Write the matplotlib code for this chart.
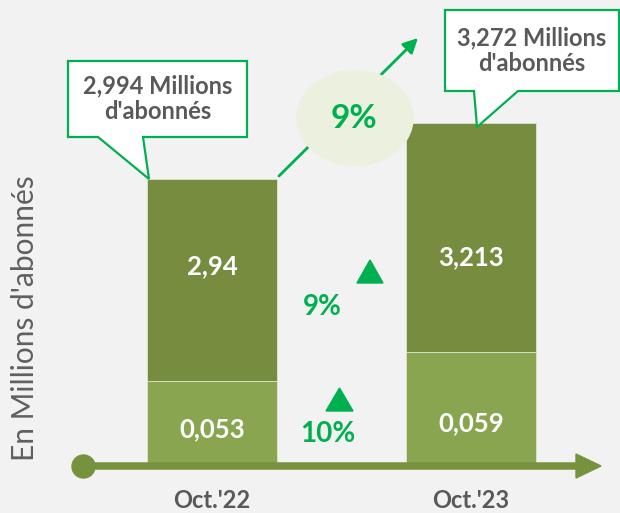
import numpy as np
import matplotlib
matplotlib.use("Agg")
import matplotlib.pyplot as plt
from matplotlib.patches import Polygon, Ellipse, Circle, FancyArrowPatch

# data
CATEGORIES = ["Oct.'22", "Oct.'23"]
BASE_SUBS = [0.053, 0.059]        # bottom segment (millions)
MAIN_SUBS = [2.94, 3.213]         # top segment (millions)
TOTAL_SUBS = [2.994, 3.272]       # callout totals
SEGMENT_GROWTH = ["10%", "9%"]    # bottom, top
TOTAL_GROWTH = "9%"

BG = "#F2F2F2"
DARK = "#768C3F"
LIGHT = "#8AA54F"
AXIS = "#77923C"
ACCENT = "#00B050"
GREY = "#595959"
FONT = ["Lato", "DejaVu Sans"]

plt.rcParams["font.family"] = FONT

W, H = 620, 513


def fmt(v):
    return str(v).replace(".", ",")


def fmt3(v):
    return f"{v:.3f}".replace(".", ",")


# infographic-style (non proportional) vertical scale, piecewise linear
stack_tops = [b + m for b, m in zip(BASE_SUBS, MAIN_SUBS)]
V_KNOTS = np.array([-10, 0, BASE_SUBS[0], BASE_SUBS[1], stack_tops[0], stack_tops[1], 10])
U_KNOTS = np.array([-1000, 0, 85, 114, 287, 343, 343 + (10 - stack_tops[1]) * 200])


def forward(v):
    return np.interp(v, V_KNOTS, U_KNOTS)


def inverse(u):
    return np.interp(u, U_KNOTS, V_KNOTS)


fig = plt.figure(figsize=(W / 100, H / 100), dpi=100, facecolor=BG)
ax = fig.add_axes([0, 0, 1, 1])
ax.set_facecolor("none")
ax.set_yscale("function", functions=(forward, inverse))
x = np.arange(len(CATEGORIES))
ax.bar(x, BASE_SUBS, width=0.5, color=LIGHT, edgecolor="#DDE5CC", linewidth=0.6, zorder=2)
ax.bar(x, MAIN_SUBS, bottom=BASE_SUBS, width=0.5, color=DARK, edgecolor="#DDE5CC",
       linewidth=0.6, zorder=2)
ax.set_xlim(-212 / 259, 408 / 259)
ax.set_ylim(inverse(-47), inverse(466))
ax.axis("off")

for i in x:
    ax.text(i, BASE_SUBS[i] + MAIN_SUBS[i] / 2, fmt(MAIN_SUBS[i]), ha="center", va="center",
            color="white", fontsize=18.5, fontweight="bold", zorder=4)
    ax.annotate(fmt(BASE_SUBS[i]), (i, 0), xytext=(0, 37 + 6 * i), textcoords="offset pixels",
                ha="center", va="center", color="white", fontsize=18.5, fontweight="bold",
                zorder=4)
    ax.text(i, 1 - 501 / H, CATEGORIES[i], transform=ax.get_xaxis_transform(),
            ha="center", va="center", color=GREY, fontsize=17, fontweight="bold")

# overlay in pixel coordinates for decoration
ov = fig.add_axes([0, 0, 1, 1], zorder=3)
ov.set_xlim(0, W)
ov.set_ylim(H, 0)
ov.axis("off")
ov.patch.set_alpha(0)

# axis line with dot and arrow head
ov.plot([83, 580], [466, 466], color=AXIS, lw=5.4, solid_capstyle="butt")
ov.add_patch(Circle((83.5, 466.5), 11.5, color=AXIS))
ov.add_patch(Polygon([(576, 454), (601, 466), (576, 478)], closed=True, color=AXIS))

# growth arrow and ellipse
ov.add_patch(FancyArrowPatch((279, 176), (418, 38), arrowstyle="-|>", mutation_scale=22,
                             color=ACCENT, lw=2, shrinkA=0, shrinkB=0, zorder=1))
ov.add_patch(Ellipse((355, 118), 116, 95, color="#EBF1DE", zorder=2))
ov.text(354, 118, TOTAL_GROWTH, ha="center", va="center", color=ACCENT, fontsize=24,
        fontweight="bold", zorder=3)

# callouts
callouts = [
    [(68, 61), (247, 61), (247, 137), (143, 137), (149, 179), (98, 137), (68, 137)],
    [(445, 10), (619, 10), (619, 91), (518, 91), (477, 127), (474, 91), (445, 91)],
]
centers = [(157.5, 99), (532, 51)]
for pts, (cx, cy), total in zip(callouts, centers, TOTAL_SUBS):
    ov.add_patch(Polygon(pts, closed=True, facecolor="white", edgecolor=ACCENT, lw=1.6,
                         joinstyle="miter", zorder=4))
    ov.text(cx, cy, f"{fmt3(total)} Millions\nd'abonnés", ha="center", va="center",
            color=GREY, fontsize=17, fontweight="bold", linespacing=1.15, zorder=5)

# segment growth markers
ov.add_patch(Polygon([(326, 411), (353, 411), (339.5, 388)], closed=True, color=ACCENT))
ov.add_patch(Polygon([(357, 283), (383, 283), (370, 260)], closed=True, color=ACCENT))
ov.text(328, 434, SEGMENT_GROWTH[0], ha="center", va="center", color=ACCENT, fontsize=20,
        fontweight="bold")
ov.text(322, 307, SEGMENT_GROWTH[1], ha="center", va="center", color=ACCENT, fontsize=20,
        fontweight="bold")

ov.text(25, 318, "En Millions d'abonnés", rotation=90, ha="center", va="center",
        color="#5F5F5F", fontsize=21.5)

fig.savefig("out.png", dpi=100, facecolor=BG)
